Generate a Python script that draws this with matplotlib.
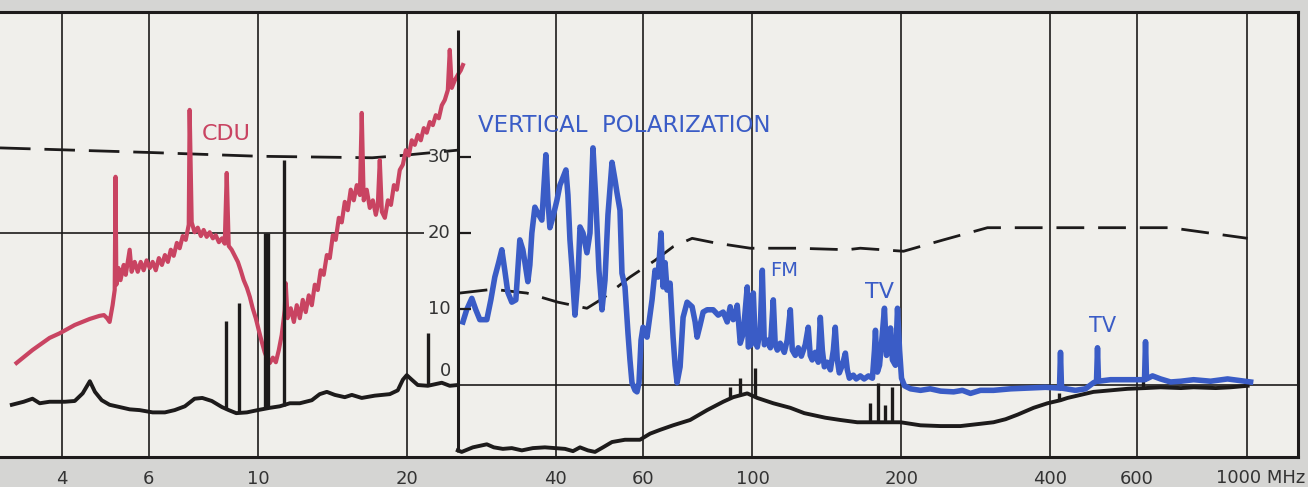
import matplotlib.pyplot as plt
from matplotlib.ticker import NullLocator

# frequency axis (MHz, log) and level axis (dB)
tick_mhz = [4, 6, 10, 20, 40, 60, 100, 200, 400, 600, 1000]
tick_labels = ['4', '6', '10', '20', '40', '60', '100', '200', '400', '600', '1000']
level_ticks = [0, 10, 20, 30]
split_mhz = 25.33  # where the vertical-polarization panel starts

# CDU emission (red)
cdu_mhz = [3.24, 3.49, 3.78, 3.96, 4.25, 4.56, 4.77, 4.87, 4.94, 5.00,
           5.07, 5.12, 5.14, 5.16, 5.21, 5.26, 5.34, 5.39, 5.49, 5.54,
           5.62, 5.70, 5.78, 5.86, 5.94, 6.03, 6.11, 6.20, 6.29, 6.38,
           6.47, 6.56, 6.65, 6.74, 6.84, 6.93, 7.03, 7.13, 7.23, 7.26,
           7.33, 7.43, 7.54, 7.65, 7.75, 7.86, 7.97, 8.09, 8.20, 8.32,
           8.44, 8.55, 8.63, 8.71, 8.83, 8.96, 9.09, 9.21, 9.34, 9.48,
           9.61, 9.74, 9.88, 10.02, 10.16, 10.30, 10.45, 10.55, 10.70, 10.85,
           11.00, 11.15, 11.31, 11.36, 11.46, 11.63, 11.80, 11.96, 12.13, 12.30,
           12.47, 12.65, 12.83, 13.01, 13.19, 13.37, 13.56, 13.76, 13.95, 14.15,
           14.34, 14.55, 14.75, 14.96, 15.17, 15.38, 15.60, 15.82, 16.05, 16.19,
           16.34, 16.57, 16.81, 17.05, 17.29, 17.45, 17.61, 17.78, 18.03, 18.29,
           18.55, 18.81, 19.07, 19.33, 19.61, 19.88, 20.16, 20.44, 20.73, 21.02,
           21.32, 21.62, 21.92, 22.23, 22.55, 22.86, 23.19, 23.51, 23.84, 24.18,
           24.40, 24.63, 24.98, 25.33, 25.68, 25.94]
cdu_db = [2.9, 4.6, 6.2, 6.8, 7.9, 8.7, 9.1, 9.2, 8.8, 8.3,
          10.5, 12.5, 27.4, 13.2, 15.4, 13.8, 15.8, 14.5, 17.8, 14.9,
          16.2, 14.9, 16.2, 15.1, 16.4, 15.4, 16.2, 15.1, 16.7, 15.8,
          17.1, 16.2, 17.8, 17.0, 18.7, 18.0, 19.6, 19.1, 21.1, 36.2,
          21.4, 20.1, 20.7, 19.6, 20.4, 19.5, 20.1, 19.3, 19.7, 18.8,
          19.3, 18.6, 27.9, 18.3, 17.8, 17.0, 16.2, 15.1, 13.8, 12.8,
          11.6, 10.1, 8.8, 7.2, 5.7, 4.3, 3.3, 2.9, 3.6, 3.0,
          4.6, 6.6, 9.9, 13.4, 8.8, 10.1, 8.3, 10.5, 8.8, 11.2,
          9.6, 11.8, 10.5, 13.2, 12.5, 15.1, 14.5, 17.1, 16.7, 19.7,
          19.1, 22.0, 21.4, 24.1, 23.0, 25.7, 24.3, 26.3, 25.0, 35.8,
          24.3, 25.7, 23.3, 24.3, 22.4, 23.7, 29.6, 22.8, 22.0, 24.3,
          23.7, 26.3, 25.7, 28.3, 29.0, 30.9, 30.2, 32.2, 31.6, 32.9,
          32.2, 33.8, 33.2, 34.6, 34.2, 35.5, 35.1, 36.8, 37.5, 38.8,
          44.1, 39.1, 40.1, 40.8, 41.4, 42.1]

# vertical polarization (blue)
vert_mhz = [25.94, 26.4, 27.04, 27.55, 28.07, 29.0, 29.55, 30.10, 30.67, 31.10,
            31.53, 31.98, 32.58, 33.2, 33.5, 33.82, 34.3, 34.62, 35.11, 35.44,
            35.77, 36.28, 36.79, 37.48, 37.8, 38.19, 38.55, 38.91, 39.46, 40.20,
            40.77, 41.3, 41.93, 42.32, 42.72, 43.12, 43.73, 44.35, 44.77, 45.40,
            46.24, 46.90, 47.56, 48.2, 48.9, 49.60, 50.30, 51.0, 51.97, 52.70,
            53.19, 53.94, 54.44, 55.21, 55.99, 56.51, 57.04, 57.85, 58.39, 58.94,
            59.5, 60.05, 60.61, 61.18, 62.05, 62.63, 63.51, 64.41, 65.31, 65.93,
            66.55, 67.17, 68.12, 69.08, 69.73, 70.38, 71.38, 72.38, 73.75, 75.49,
            76.56, 77.27, 78.36, 79.47, 80.96, 83.27, 85.24, 87.25, 88.9, 90.16,
            91.43, 92.29, 93.15, 94.47, 95.80, 96.7, 97.6, 98.06, 99.4, 100.4,
            101.3, 102.3, 103.7, 104.7, 105.7, 107.2, 108.7, 110.2, 111.2, 112.3,
            113.8, 116.0, 117.6, 119.3, 120.4, 122.1, 123.8, 125.6, 127.9, 129.7,
            130.9, 132.1, 134.0, 135.9, 137.2, 138.5, 139.8, 141.7, 143.8, 145.8,
            147.1, 148.5, 149.9, 152.0, 154.2, 155.6, 157.1, 160.0, 162.2, 165.3,
            168.3, 171.7, 174.9, 176.6, 177.4, 179.0, 180.8, 182.4, 185.0, 186.8,
            188.5, 190.3, 192.0, 194.7, 196.6, 198.5, 200.3, 203.1, 208.9, 218.8,
            229.0, 240.3, 255.3, 266.0, 276.2, 289.4, 307.5, 333.0, 360.4, 391.8,
            416.4, 418.3, 420.2, 422.2, 450.4, 472.0, 490.1, 497.0, 499.3, 501.6,
            530.5, 582.5, 621.6, 624.5, 627.4, 645.2, 669.8, 702.0, 736.5, 781.2,
            845.7, 915.3, 1019]
vert_db = [8.3, 9.9, 11.4, 9.9, 8.6, 8.6, 11.2, 14.2, 16.2, 17.8,
           15.1, 12.2, 10.9, 11.2, 15.1, 19.1, 17.8, 16.2, 13.6, 15.8,
           20.0, 23.4, 22.6, 21.7, 25.7, 30.3, 24.3, 20.7, 22.1, 24.3,
           26.3, 27.2, 28.3, 25.0, 19.1, 15.5, 9.2, 14.2, 20.8, 20.0,
           17.4, 20.0, 31.2, 24.3, 15.1, 9.9, 13.8, 22.4, 29.3, 27.0,
           25.3, 23.0, 14.7, 12.9, 6.8, 3.3, 0.3, -0.7, -0.9, 0.3,
           5.9, 7.6, 7.2, 6.3, 9.2, 11.2, 15.1, 14.2, 20.0, 12.9,
           16.1, 12.5, 13.4, 6.3, 2.6, 0.3, 2.4, 8.9, 10.9, 10.3,
           8.3, 6.3, 7.9, 9.6, 9.9, 9.9, 9.2, 9.6, 8.3, 10.3,
           8.6, 8.9, 10.5, 5.5, 6.8, 9.9, 12.9, 5.0, 5.3, 12.1,
           5.9, 5.0, 7.2, 15.1, 5.3, 5.9, 4.9, 11.2, 5.3, 4.6,
           5.5, 4.3, 5.9, 9.9, 4.6, 3.9, 4.9, 3.8, 5.3, 7.6,
           3.9, 3.3, 4.3, 3.0, 8.9, 4.6, 2.4, 3.0, 2.0, 4.6,
           7.6, 3.3, 1.6, 2.6, 4.2, 2.0, 0.9, 1.3, 0.8, 1.2,
           0.8, 1.2, 0.9, 4.6, 7.2, 1.7, 2.6, 5.3, 10.1, 3.9,
           4.6, 7.5, 3.3, 2.6, 10.1, 4.6, 0.9, -0.1, -0.5, -0.7,
           -0.5, -0.8, -0.9, -0.7, -1.1, -0.7, -0.7, -0.5, -0.4, -0.3,
           -0.4, -0.4, 4.3, -0.4, -0.7, -0.5, 0.3, 0.5, 4.9, 0.5,
           0.7, 0.7, 0.7, 5.7, 0.8, 1.2, 0.8, 0.4, 0.5, 0.7,
           0.5, 0.8, 0.4]

# ambient level, left panel (black)
amb_left_mhz = [3.17, 3.35, 3.49, 3.61, 3.78, 4.06, 4.25, 4.41, 4.56, 4.67,
                4.82, 5.0, 5.24, 5.49, 5.75, 6.11, 6.47, 6.77, 7.10, 7.43,
                7.70, 8.05, 8.44, 8.71, 9.02, 9.48, 9.97, 10.55, 11.05, 11.58,
                12.13, 12.83, 13.31, 13.76, 14.28, 14.96, 15.46, 16.19, 17.20, 18.45,
                19.15, 19.61, 19.97, 20.44, 21.02, 22.03, 22.76, 23.51, 24.40, 25.33]
amb_left_db = [-2.6, -2.2, -1.8, -2.4, -2.2, -2.2, -2.1, -1.1, 0.5, -0.9,
               -2.0, -2.6, -2.9, -3.2, -3.3, -3.6, -3.6, -3.3, -2.8, -1.8,
               -1.7, -2.1, -2.9, -3.3, -3.7, -3.6, -3.3, -3.0, -2.8, -2.4,
               -2.4, -2.0, -1.2, -0.9, -1.3, -1.6, -1.3, -1.7, -1.4, -1.2,
               -0.7, 0.7, 1.3, 0.7, 0.0, -0.1, 0.1, 0.3, -0.1, 0.0]

# ambient level, right panel (black)
amb_right_mhz = [25.33, 25.8, 27.17, 28.07, 29.0, 29.96, 31.25, 32.58, 34.14, 35.94,
                 38.01, 39.83, 41.74, 43.33, 44.77, 46.45, 48.01, 49.83, 51.97, 55.21,
                 59.21, 62.05, 65.01, 69.08, 74.79, 80.96, 87.25, 91.43, 97.6, 102.3,
                 110.2, 119.3, 127.3, 140.4, 150.6, 163.0, 181.6, 199.4, 218.8, 240.3,
                 263.6, 289.4, 307.5, 325.3, 344.0, 370.6, 395.5, 420.2, 434.2, 461.3,
                 490.1, 530.5, 574.2, 624.5, 669.8, 736.5, 781.2, 866.4, 928, 1005]
amb_right_db = [-8.6, -8.8, -8.2, -8.0, -7.8, -8.2, -8.4, -8.3, -8.6, -8.3,
                -8.2, -8.3, -8.4, -8.7, -8.2, -8.6, -8.8, -8.2, -7.5, -7.2,
                -7.2, -6.4, -5.9, -5.3, -4.6, -3.3, -2.2, -1.6, -1.1, -1.7,
                -2.4, -3.0, -3.7, -4.3, -4.6, -4.9, -4.9, -4.9, -5.3, -5.4,
                -5.4, -5.1, -4.9, -4.5, -3.9, -3.0, -2.4, -2.0, -1.7, -1.3,
                -0.9, -0.7, -0.5, -0.4, -0.3, -0.4, -0.3, -0.4, -0.3, -0.1]

# broadcast carriers in the ambient traces
carrier_left_mhz = [8.59, 9.13, 10.32, 10.48, 11.25, 22.0]
carrier_left_top = [8.4, 10.8, 20.0, 20.0, 29.6, 6.8]
carrier_left_base = [-3.0, -3.6, -3.0, -3.0, -2.8, -0.1]
carrier_right_mhz = [90.16, 94.47, 101.3, 173.3, 179.9, 185.9, 192.0, 416.4, 615.9]
carrier_right_top = [-0.3, 0.9, 2.2, -2.4, 0.3, -2.6, -0.3, -1.1, 0.7]
carrier_right_base = [-1.6, -1.3, -1.6, -4.9, -4.9, -4.9, -4.9, -2.0, -0.5]

# limit lines (dashed)
limit_left_mhz = [3.0, 6.0, 10.0, 17.0, 19.5, 25.3]
limit_left_db = [31.2, 30.6, 30.1, 29.9, 30.2, 30.9]
limit_right_mhz = [25.56, 29.83, 34.94, 40.39, 46.24, 49.8, 56.5, 63.5, 69.1, 75.5,
                   84.0, 99.0, 123.3, 155.6, 165.3, 202.2, 243.6, 299, 395.5, 702, 1005]
limit_right_db = [12.1, 12.6, 12.1, 10.9, 10.1, 11.4, 14.2, 16.4, 18.2, 19.3,
                  18.7, 18.0, 18.0, 17.8, 18.0, 17.6, 19.1, 20.7, 20.7, 20.7, 19.3]

RED = '#c94462'
BLUE = '#3a5cc6'
INK = '#1d1b1b'
TXT = '#333333'

fig = plt.figure(figsize=(13.08, 4.87), dpi=100)
fig.patch.set_facecolor('#d5d5d3')
ax = fig.add_axes([0.0, 30 / 487, 1298 / 1308, 445 / 487])
ax.set_facecolor('#f0efeb')
ax.set_xscale('log')
ax.set_xlim(3.0, 1271)
ax.set_ylim(-9.47, 49.08)

for side in ['top', 'bottom', 'right']:
    ax.spines[side].set_linewidth(2.2)
    ax.spines[side].set_color(INK)
ax.spines['left'].set_visible(False)

# grid
for f in tick_mhz:
    ax.axvline(f, color=INK, lw=1.2, zorder=1)
ax.hlines(20, 3.0, 21.6, color=INK, lw=1.2, zorder=1)
ax.hlines(0, split_mhz, 1271, color=INK, lw=1.2, zorder=1)

# inner level axis
ax.vlines(split_mhz, -8.8, 46.7, color=INK, lw=2.2, zorder=6)
ax.hlines(level_ticks[1:], split_mhz, 27.0, color=INK, lw=1.6, zorder=6)
for v in level_ticks:
    dy = 14 if v == 0 else 0
    ax.annotate(str(v), xy=(split_mhz, v), xytext=(-7, dy), textcoords='offset pixels',
                ha='right', va='center', fontsize=13, color=TXT)

# limit lines
ax.plot(limit_left_mhz, limit_left_db, color=INK, lw=2.0, ls=(0, (11, 5)), zorder=2)
ax.plot(limit_right_mhz, limit_right_db, color=INK, lw=2.0, ls=(0, (10, 5)), zorder=2)

# traces
ax.plot(amb_left_mhz, amb_left_db, color=INK, lw=2.8, zorder=3.2, solid_joinstyle='round')
ax.plot(amb_right_mhz, amb_right_db, color=INK, lw=2.8, zorder=3.2, solid_joinstyle='round')
ax.plot(cdu_mhz, cdu_db, color=RED, lw=3.0, zorder=3, solid_joinstyle='round')
ax.vlines(carrier_left_mhz, carrier_left_base, carrier_left_top, color=INK, lw=2.4, zorder=3.5)
ax.vlines(carrier_right_mhz, carrier_right_base, carrier_right_top, color=INK, lw=2.4, zorder=3.5)
ax.plot(vert_mhz, vert_db, color=BLUE, lw=4.0, zorder=4, solid_joinstyle='round')

# labels on the traces
ax.text(8.59, 33.0, 'CDU', color=RED, fontsize=16, ha='center', va='center')
ax.text(27.8, 34.2, 'VERTICAL  POLARIZATION', color=BLUE, fontsize=16.5, ha='left', va='center')
ax.text(108.7, 15.1, 'FM', color=BLUE, fontsize=14, ha='left', va='center')
ax.text(169.2, 12.2, 'TV', color=BLUE, fontsize=16, ha='left', va='center')
ax.text(479, 7.8, 'TV', color=BLUE, fontsize=15, ha='left', va='center')

# frequency labels
ax.xaxis.set_minor_locator(NullLocator())
ax.set_xticks(tick_mhz, labels=tick_labels[:-1] + [''])
ax.set_yticks([])
ax.tick_params(axis='x', length=0, pad=9, labelsize=13, labelcolor=TXT)
ax.annotate(tick_labels[-1] + ' MHz', xy=(tick_mhz[-1], 0), xycoords=('data', 'axes fraction'),
            xytext=(-31, -12), textcoords='offset pixels', ha='left', va='top',
            fontsize=13, color=TXT)

fig.savefig('out.png', dpi=100, facecolor=fig.get_facecolor())
